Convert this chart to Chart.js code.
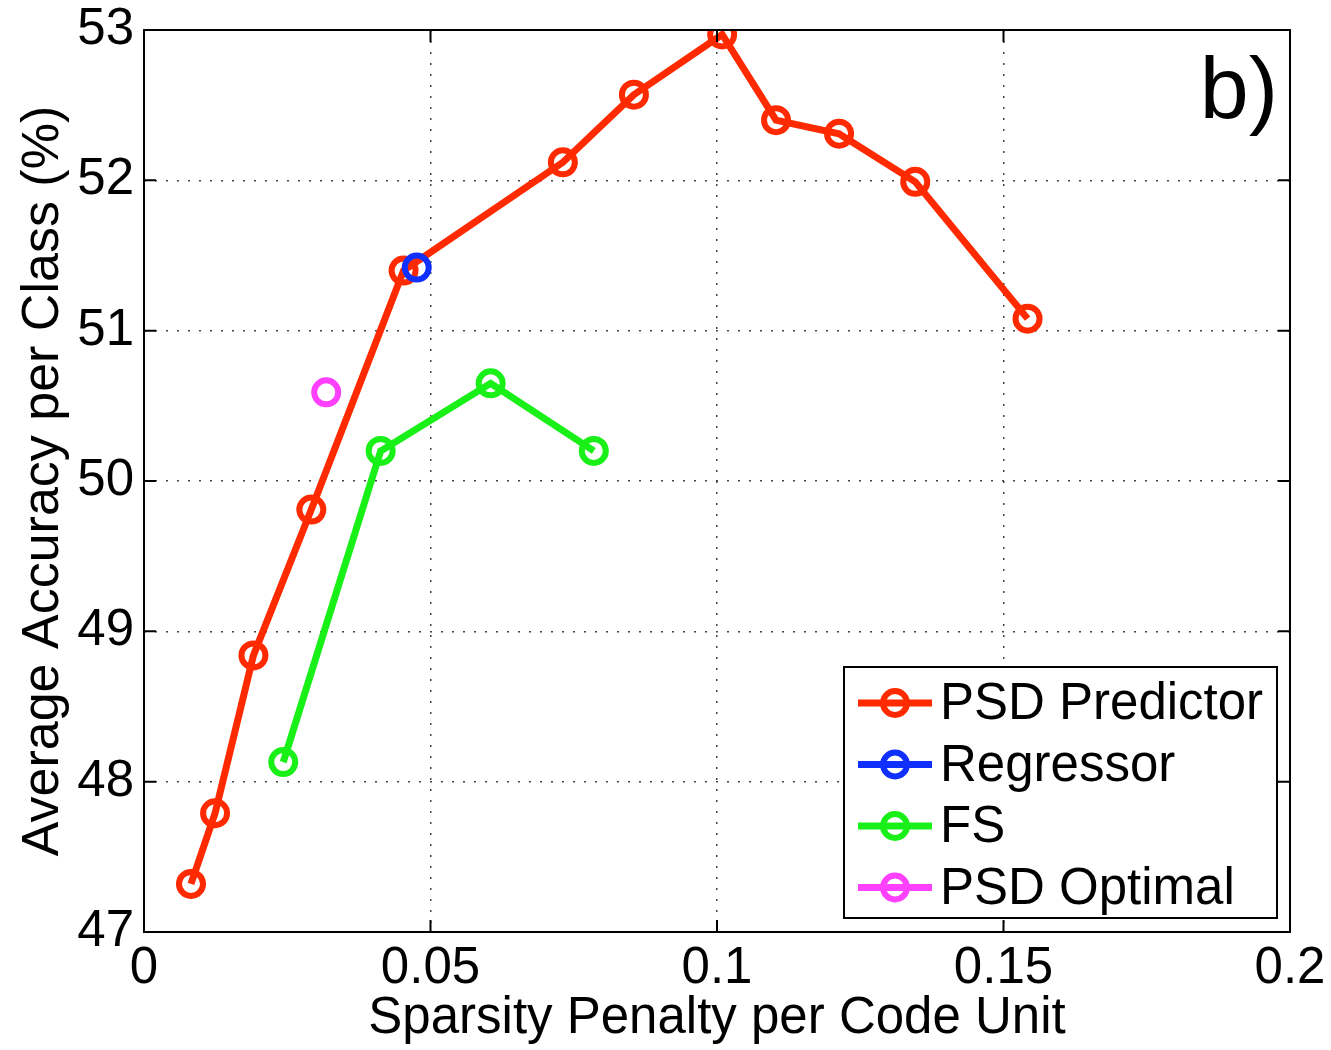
<!DOCTYPE html>
<html>
<head>
<meta charset="utf-8">
<script src="https://cdn.jsdelivr.net/npm/chart.js@4"></script>
<style>
  html, body { margin: 0; padding: 0; background: #fff; }
  #wrap { width: 1331px; height: 1050px; }
</style>
</head>
<body>
<div id="wrap"><canvas id="myChart"></canvas></div>
<script>
// values
const seriesNames = ["PSD Predictor", "Regressor", "FS", "PSD Optimal"];
const seriesColors = ["#ff2a00", "#1030ff", "#18f018", "#ff40ff"];

const predictorX = [0.0082, 0.0124, 0.0191, 0.0292, 0.0453, 0.0731, 0.0855, 0.1009, 0.1103, 0.1213, 0.1346, 0.1542];
const predictorY = [47.32, 47.79, 48.84, 49.81, 51.40, 52.12, 52.57, 52.97, 52.40, 52.31, 51.99, 51.08];
const regressorX = [0.0476];
const regressorY = [51.42];
const fsX = [0.0243, 0.0413, 0.0605, 0.0785];
const fsY = [48.13, 50.20, 50.65, 50.20];
const optimalX = [0.0318];
const optimalY = [50.59];

const xTicks = [0, 0.05, 0.1, 0.15, 0.2];
const yTicks = [47, 48, 49, 50, 51, 52, 53];
const xLabel = "Sparsity Penalty per Code Unit";
const yLabel = "Average Accuracy per Class (%)";
const panelTag = "b)";

const FONT = "'Liberation Sans', Arial, Helvetica, sans-serif";

function toPoints(xs, ys) {
    return xs.map((x, i) => ({ x: x, y: ys[i] }));
}

const allX = [predictorX, regressorX, fsX, optimalX];
const allY = [predictorY, regressorY, fsY, optimalY];

const datasets = seriesNames.map((name, i) => ({
    label: name,
    data: toPoints(allX[i], allY[i]),
    showLine: true,
    borderColor: seriesColors[i],
    backgroundColor: 'rgba(0,0,0,0)',
    borderWidth: 7,
    pointRadius: 12,
    pointBorderWidth: 6,
    pointBorderColor: seriesColors[i],
    pointBackgroundColor: 'rgba(0,0,0,0)',
    order: i == 1 ? 0 : (i == 3 ? 1 : 2)
}));

// frame, inward ticks, legend box and panel tag
const decorPlugin = {
    id: 'decor',
    afterDraw(chart) {
        const ctx = chart.ctx;
        const a = chart.chartArea;
        const xs = chart.scales.x, ys = chart.scales.y;
        ctx.save();
        ctx.strokeStyle = '#000';
        ctx.lineWidth = 2;
        ctx.setLineDash([]);
        ctx.strokeRect(a.left, a.top, a.right - a.left, a.bottom - a.top);
        const tl = 12;
        ctx.beginPath();
        xTicks.forEach(t => {
            const px = xs.getPixelForValue(t);
            ctx.moveTo(px, a.bottom); ctx.lineTo(px, a.bottom - tl);
            ctx.moveTo(px, a.top); ctx.lineTo(px, a.top + tl);
        });
        yTicks.forEach(t => {
            const py = ys.getPixelForValue(t);
            ctx.moveTo(a.left, py); ctx.lineTo(a.left + tl, py);
            ctx.moveTo(a.right, py); ctx.lineTo(a.right - tl, py);
        });
        ctx.stroke();

        // panel tag
        ctx.fillStyle = '#000';
        ctx.font = '88px ' + FONT;
        ctx.textAlign = 'right';
        ctx.textBaseline = 'alphabetic';
        ctx.fillText(panelTag, a.right - 12, 118);

        // legend
        const lx = 844, ly = 667, lw = 433, lh = 251;
        ctx.fillStyle = '#fff';
        ctx.fillRect(lx, ly, lw, lh);
        ctx.strokeStyle = '#000';
        ctx.lineWidth = 2;
        ctx.strokeRect(lx, ly, lw, lh);
        ctx.font = '51px ' + FONT;
        ctx.textAlign = 'left';
        ctx.textBaseline = 'middle';
        seriesNames.forEach((name, i) => {
            const cy = ly + 36 + i * 61.5;
            ctx.strokeStyle = seriesColors[i];
            ctx.lineWidth = 7;
            ctx.beginPath();
            ctx.moveTo(858, cy); ctx.lineTo(932, cy);
            ctx.stroke();
            ctx.lineWidth = 6;
            ctx.beginPath();
            ctx.arc(895, cy, 12, 0, Math.PI * 2);
            ctx.stroke();
            ctx.fillStyle = '#000';
            ctx.fillText(name, 940, cy + 2);
        });
        ctx.restore();
    }
};

new Chart("myChart", {
    type: "scatter",
    data: { datasets: datasets },
    plugins: [decorPlugin],
    options: {
        responsive: true,
        maintainAspectRatio: false,
        animation: false,
        layout: { padding: { top: 30, right: 41, left: 0, bottom: 0 } },
        plugins: {
            legend: { display: false },
            tooltip: { enabled: false }
        },
        scales: {
            x: {
                type: 'linear',
                min: 0,
                max: 0.2,
                afterFit: s => { s.height = 118; s.paddingLeft = 0; s.paddingRight = 0; },
                afterBuildTicks: s => { s.ticks = xTicks.map(v => ({ value: v })); },
                ticks: {
                    color: '#000',
                    font: { family: FONT, size: 51 },
                    padding: 6,
                    maxRotation: 0,
                    callback: v => String(v)
                },
                grid: { color: '#444', lineWidth: 1.5, drawTicks: false },
                border: { display: false, dash: [2, 9] },
                title: {
                    display: true,
                    text: xLabel,
                    color: '#000',
                    font: { family: FONT, size: 51 },
                    padding: { top: 0, bottom: 0 }
                }
            },
            y: {
                type: 'linear',
                min: 47,
                max: 53,
                afterFit: s => { s.width = 144; s.paddingTop = 0; s.paddingBottom = 0; },
                afterBuildTicks: s => { s.ticks = yTicks.map(v => ({ value: v })); },
                ticks: {
                    color: '#000',
                    font: { family: FONT, size: 51 },
                    padding: 10,
                    callback: v => String(v)
                },
                grid: { color: '#444', lineWidth: 1.5, drawTicks: false },
                border: { display: false, dash: [2, 9] },
                title: {
                    display: true,
                    text: yLabel,
                    color: '#000',
                    font: { family: FONT, size: 52 },
                    padding: { top: 12, bottom: 4 }
                }
            }
        }
    }
});
</script>
</body>
</html>
